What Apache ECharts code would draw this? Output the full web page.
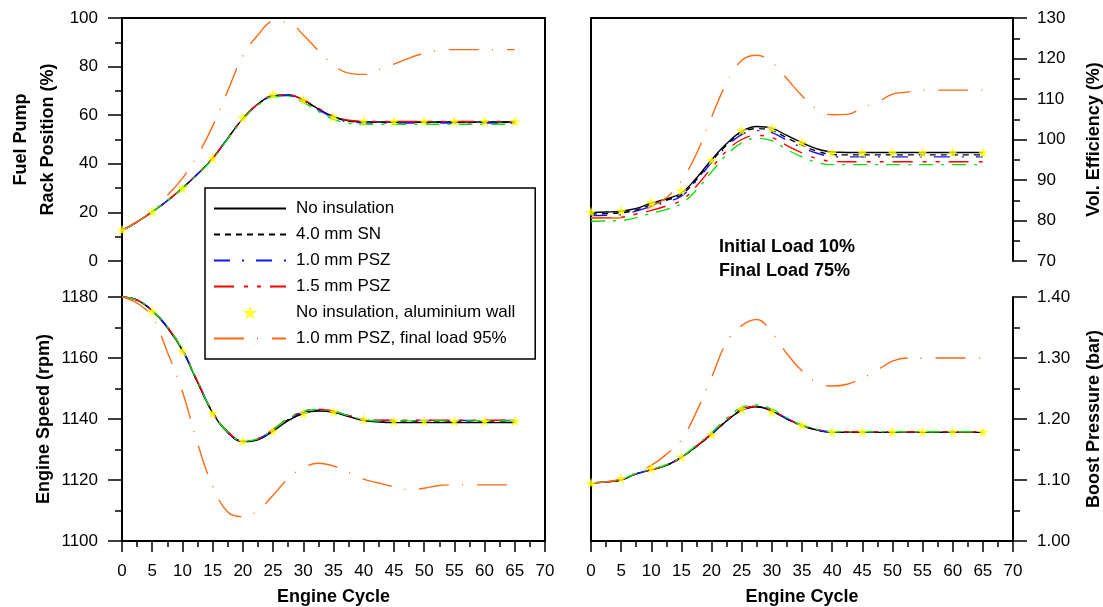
<!DOCTYPE html>
<html>
<head>
    <meta charset="utf-8">
    <title>Transient response, Initial Load 10% / Final Load 75%</title>
    <script src="https://cdn.jsdelivr.net/npm/echarts@6/dist/echarts.min.js"></script>
</head>
<body style="margin:0">
<div id="main" style="width:1103px;height:607px;"></div>
<script type="text/javascript">
    // engine cycles sampled for the curves, and the cycles of the star markers
    var cycles = [0, 2.5, 5, 7.5, 10, 12.5, 15, 17.5, 20, 22.5, 25, 27.5, 30, 32.5, 35, 37.5, 40, 42.5, 45, 47.5, 50, 52.5, 55, 57.5, 60, 62.5, 65];
    var starCycles = [0, 5, 10, 15, 20, 25, 30, 35, 40, 45, 50, 55, 60, 65];

    var lineNames = ['No insulation', '4.0 mm SN', '1.0 mm PSZ', '1.5 mm PSZ', 'Other', '1.0 mm PSZ, final load 95%'];
    var starName = 'No insulation, aluminium wall';

    // fuel pump rack position (%)
    var rackNoIns = [12.5, 16.1, 20.2, 24.8, 30, 35.8, 42.2, 50.5, 58.6, 64.6, 68, 68.3, 66.2, 62.6, 59.4, 57.7, 57.3, 57.2, 57.2, 57.2, 57.2, 57.2, 57.2, 57.2, 57.2, 57.2, 57.2];
    var rackSN = [12.5, 16.1, 20.2, 24.8, 30, 35.8, 42.2, 50.5, 58.6, 64.5, 67.9, 68.2, 66.1, 62.5, 59.3, 57.6, 57.2, 57.1, 57.1, 57.1, 57.1, 57.1, 57.1, 57.1, 57.1, 57.1, 57.1];
    var rackPSZ10 = [12.5, 16.1, 20.2, 24.8, 30, 35.8, 42.2, 50.4, 58.4, 64.4, 67.8, 68.1, 65.9, 62.2, 59, 57.2, 56.9, 56.8, 56.8, 56.8, 56.8, 56.8, 56.8, 56.8, 56.8, 56.8, 56.8];
    var rackPSZ15 = [12.5, 16.1, 20.2, 24.8, 30, 35.9, 42.3, 50.6, 58.7, 64.7, 68.1, 68.4, 66.4, 62.9, 59.6, 57.9, 57.5, 57.4, 57.4, 57.4, 57.4, 57.4, 57.4, 57.4, 57.4, 57.4, 57.4];
    var rackGreen = [12.5, 16.1, 20.2, 24.8, 30, 35.7, 42, 50.2, 58.2, 64.2, 67.6, 67.8, 65.3, 61.6, 58.3, 56.7, 56.3, 56.3, 56.3, 56.3, 56.3, 56.3, 56.3, 56.3, 56.3, 56.3, 56.3];
    var rackPSZ95 = [12.5, 16.2, 20.5, 27, 34, 43.5, 55.5, 70, 84.5, 93, 98.5, 98.2, 93, 86.5, 80.5, 77.3, 76.8, 78.8, 81, 83.5, 85.5, 86.7, 87, 87, 87, 87, 87];
    var rackAlu = [12.8, 20.3, 29.9, 42.3, 59, 68.6, 66.3, 59.4, 57.6, 57.5, 57.5, 57.5, 57.5, 57.5];

    // engine speed (rpm)
    var speedNoIns = [1180, 1179, 1175.5, 1170, 1162.5, 1152, 1142, 1135.5, 1132.6, 1133.2, 1136, 1139.5, 1141.8, 1142.6, 1142.2, 1140.8, 1139.5, 1139, 1138.8, 1138.8, 1138.8, 1138.8, 1138.8, 1138.8, 1138.8, 1138.8, 1138.8];
    var speedSN = [1180, 1179, 1175.5, 1170.1, 1162.6, 1152.2, 1142.2, 1135.7, 1132.8, 1133.4, 1136.3, 1139.8, 1142.1, 1142.9, 1142.4, 1141, 1139.7, 1139.4, 1139.3, 1139.3, 1139.3, 1139.3, 1139.3, 1139.3, 1139.3, 1139.3, 1139.3];
    var speedPSZ10 = [1180, 1179, 1175.6, 1170.2, 1162.8, 1152.4, 1142.3, 1135.8, 1132.9, 1133.5, 1136.4, 1140, 1142.3, 1143, 1142.5, 1141.1, 1139.8, 1139.5, 1139.5, 1139.5, 1139.5, 1139.5, 1139.5, 1139.5, 1139.5, 1139.5, 1139.5];
    var speedPSZ15 = [1180, 1179, 1175.6, 1170.2, 1162.8, 1152.4, 1142.3, 1135.8, 1132.9, 1133.6, 1136.6, 1140.2, 1142.5, 1143.2, 1142.6, 1141.2, 1139.9, 1139.6, 1139.6, 1139.6, 1139.6, 1139.6, 1139.6, 1139.6, 1139.6, 1139.6, 1139.6];
    var speedGreen = [1180, 1179, 1175.6, 1170.2, 1162.7, 1152.3, 1142.2, 1135.7, 1132.8, 1133.5, 1136.5, 1140.1, 1142.4, 1143.1, 1142.5, 1141.1, 1139.8, 1139.4, 1139.4, 1139.4, 1139.4, 1139.4, 1139.4, 1139.4, 1139.4, 1139.4, 1139.4];
    var speedPSZ95 = [1180, 1178, 1173.5, 1162, 1149, 1132, 1118, 1109.5, 1108, 1110, 1115, 1120.5, 1124, 1125.5, 1124.6, 1122.5, 1120.3, 1119, 1117.8, 1116.8, 1117.3, 1118.2, 1118.4, 1118.4, 1118.4, 1118.4, 1118.4];
    var speedAlu = [1180.6, 1175.2, 1162.3, 1141.9, 1132.8, 1136.1, 1141.9, 1142.4, 1139.9, 1139.3, 1139.3, 1139.3, 1139.3, 1139.3];

    // volumetric efficiency (%)
    var volNoIns = [82, 82.1, 82.3, 83, 84.3, 85.3, 86.8, 90.5, 95, 99, 102, 103.2, 102.8, 101, 99.2, 97.7, 96.9, 96.8, 96.8, 96.8, 96.8, 96.8, 96.8, 96.8, 96.8, 96.8, 96.8];
    var volSN = [81.6, 81.7, 81.9, 82.6, 83.9, 85, 86.4, 90.1, 94.6, 98.6, 101.6, 102.7, 102.2, 100.4, 98.6, 97.1, 96.3, 96.2, 96.2, 96.2, 96.2, 96.2, 96.2, 96.2, 96.2, 96.2, 96.2];
    var volPSZ10 = [81.2, 81.3, 81.5, 82.3, 83.5, 84.6, 86, 89.8, 94.3, 98.3, 101.2, 102.2, 101.7, 99.8, 98, 96.6, 95.8, 95.7, 95.7, 95.7, 95.7, 95.7, 95.7, 95.7, 95.7, 95.7, 95.7];
    var volPSZ15 = [80.6, 80.7, 80.8, 81.6, 82.5, 83.6, 85, 88.5, 93, 97.2, 100, 101, 100.5, 98.5, 96.7, 95.3, 94.6, 94.5, 94.5, 94.5, 94.5, 94.5, 94.5, 94.5, 94.5, 94.5, 94.5];
    var volGreen = [79.8, 79.9, 80, 80.7, 81.8, 82.7, 84.2, 87.5, 92, 96.2, 99.2, 100.3, 99.7, 97.5, 95.7, 94.3, 93.8, 93.8, 93.8, 93.8, 93.8, 93.8, 93.8, 93.8, 93.8, 93.8, 93.8];
    var volPSZ95 = [80.6, 80.6, 80.6, 81.5, 83.5, 85.6, 89.8, 96.5, 105.5, 114, 119.5, 120.8, 119, 115, 110.8, 107.5, 106.1, 106.2, 107.8, 109.2, 111.2, 111.7, 112.2, 112.2, 112.2, 112.2, 112.2];
    var volAlu = [82.1, 82.4, 84.5, 87.4, 94.9, 102.2, 102.8, 99.3, 96.8, 96.8, 96.8, 96.8, 96.8, 96.8];

    // boost pressure (bar)
    var boostNoIns = [1.095, 1.097, 1.100, 1.110, 1.117, 1.124, 1.137, 1.155, 1.175, 1.197, 1.214, 1.220, 1.213, 1.200, 1.189, 1.182, 1.178, 1.178, 1.178, 1.178, 1.178, 1.178, 1.178, 1.178, 1.178, 1.178, 1.178];
    var boostSN = [1.095, 1.097, 1.100, 1.110, 1.117, 1.124, 1.137, 1.155, 1.175, 1.197, 1.215, 1.220, 1.213, 1.200, 1.189, 1.182, 1.178, 1.178, 1.178, 1.178, 1.178, 1.178, 1.178, 1.178, 1.178, 1.178, 1.178];
    var boostPSZ10 = [1.095, 1.097, 1.101, 1.110, 1.117, 1.125, 1.137, 1.156, 1.176, 1.198, 1.215, 1.221, 1.214, 1.201, 1.190, 1.182, 1.179, 1.179, 1.179, 1.179, 1.179, 1.179, 1.179, 1.179, 1.179, 1.179, 1.179];
    var boostPSZ15 = [1.095, 1.097, 1.100, 1.110, 1.117, 1.124, 1.137, 1.156, 1.176, 1.198, 1.216, 1.221, 1.214, 1.201, 1.190, 1.183, 1.179, 1.179, 1.179, 1.179, 1.179, 1.179, 1.179, 1.179, 1.179, 1.179, 1.179];
    var boostGreen = [1.095, 1.097, 1.101, 1.111, 1.118, 1.125, 1.138, 1.157, 1.178, 1.201, 1.219, 1.223, 1.216, 1.202, 1.190, 1.183, 1.179, 1.179, 1.179, 1.179, 1.179, 1.179, 1.179, 1.179, 1.179, 1.179, 1.179];
    var boostPSZ95 = [1.095, 1.097, 1.102, 1.113, 1.124, 1.142, 1.166, 1.212, 1.268, 1.326, 1.353, 1.363, 1.342, 1.307, 1.279, 1.260, 1.254, 1.257, 1.267, 1.280, 1.295, 1.300, 1.300, 1.300, 1.300, 1.300, 1.300];
    var boostAlu = [1.095, 1.103, 1.119, 1.138, 1.175, 1.216, 1.212, 1.190, 1.179, 1.179, 1.179, 1.179, 1.179, 1.179];

    var FONT = 'Liberation Sans, Arial, Helvetica, sans-serif';
    var STAR = 'path://M50,0 L61,35 L98,35 L68,57 L79,91 L50,70 L21,91 L32,57 L2,35 L39,35 Z';

    var lineStyles = [
        { color: '#000000', type: 'solid' },
        { color: '#000000', type: [6, 5] },
        { color: '#1414ff', type: [16, 12, 2, 12] },
        { color: '#ff0000', type: [20, 10, 4, 9, 4, 9] },
        { color: '#11dd11', type: [14, 8, 3, 8] },
        { color: '#ff6a13', type: [30, 13, 1, 14] }
    ];

    var panels = [
        { grid: 0, lines: [rackNoIns, rackSN, rackPSZ10, rackPSZ15, rackGreen, rackPSZ95], stars: rackAlu },
        { grid: 1, lines: [speedNoIns, speedSN, speedPSZ10, speedPSZ15, speedGreen, speedPSZ95], stars: speedAlu },
        { grid: 2, lines: [volNoIns, volSN, volPSZ10, volPSZ15, volGreen, volPSZ95], stars: volAlu },
        { grid: 3, lines: [boostNoIns, boostSN, boostPSZ10, boostPSZ15, boostGreen, boostPSZ95], stars: boostAlu }
    ];

    function pairs(xs, ys) {
        return xs.map(function (x, i) { return [x, ys[i]]; });
    }

    var series = [];
    panels.forEach(function (p) {
        p.lines.forEach(function (ys, k) {
            series.push({
                name: lineNames[k],
                type: 'line',
                xAxisIndex: p.grid,
                yAxisIndex: p.grid,
                data: pairs(cycles, ys),
                smooth: 0.4,
                symbol: 'none',
                color: lineStyles[k].color,
                lineStyle: { width: 1.4, color: lineStyles[k].color, type: lineStyles[k].type }
            });
        });
        series.push({
            name: starName,
            type: 'scatter',
            xAxisIndex: p.grid,
            yAxisIndex: p.grid,
            data: pairs(starCycles, p.stars),
            symbol: STAR,
            symbolSize: 11,
            z: 5,
            itemStyle: { color: '#ffff00' }
        });
    });

    function cycleAxis(grid, visible) {
        return {
            type: 'value', gridIndex: grid, min: 0, max: 70, interval: 5, show: visible,
            name: 'Engine Cycle', nameLocation: 'middle', nameGap: 47,
            nameTextStyle: { fontSize: 18, fontWeight: 'bold', color: '#000', fontFamily: FONT },
            axisLine: { show: true, onZero: false, lineStyle: { color: '#000', width: 2 } },
            axisTick: { length: 11, lineStyle: { color: '#000', width: 1.5 } },
            minorTick: { show: true, splitNumber: 2, length: 6, lineStyle: { color: '#000', width: 1.5 } },
            axisLabel: { fontSize: 17, color: '#000', margin: 22, fontFamily: FONT },
            splitLine: { show: false }
        };
    }

    function valueAxis(grid, pos, min, max, step, name, gap, fmt) {
        return {
            type: 'value', gridIndex: grid, position: pos, min: min, max: max, interval: step,
            name: name, nameLocation: 'middle', nameGap: gap,
            nameTextStyle: { fontSize: 18, fontWeight: 'bold', color: '#000', fontFamily: FONT, lineHeight: 27 },
            axisLine: { show: true, onZero: false, lineStyle: { color: '#000', width: 2 } },
            axisTick: { length: 14, lineStyle: { color: '#000', width: 1.5 } },
            minorTick: { show: true, splitNumber: 2, length: 7, lineStyle: { color: '#000', width: 1.5 } },
            axisLabel: { fontSize: 17, color: '#000', margin: 24, fontFamily: FONT, formatter: fmt },
            splitLine: { show: false }
        };
    }

    function frameAxis(grid, pos) {
        return {
            type: 'value', gridIndex: grid, position: pos, min: 0, max: 1,
            axisLine: { show: true, onZero: false, lineStyle: { color: '#000', width: 2 } },
            axisTick: { show: false }, axisLabel: { show: false }, splitLine: { show: false }
        };
    }

    function plain(v) { return String(v); }

    // legend entries: lines without a marker, the aluminium wall case as a star only
    var legendItems = ['No insulation', '4.0 mm SN', '1.0 mm PSZ', '1.5 mm PSZ', starName, '1.0 mm PSZ, final load 95%'].map(function (n) {
        return n === starName ? { name: n } : { name: n, itemStyle: { opacity: 0 } };
    });

    var myChart = echarts.init(document.getElementById('main'));
    myChart.setOption({
        animation: false,
        backgroundColor: '#ffffff',
        title: {
            text: 'Initial Load 10%\nFinal Load 75%',
            left: 719, top: 235, padding: 0,
            textStyle: { fontSize: 18, fontWeight: 'bold', color: '#000', lineHeight: 24, fontFamily: FONT }
        },
        legend: {
            data: legendItems,
            orient: 'vertical',
            left: 205, top: 188,
            padding: [12, 20, 12, 8],
            itemWidth: 72, itemHeight: 14, itemGap: 9,
            borderColor: '#000', borderWidth: 1.5,
            backgroundColor: '#fff',
            textStyle: { fontSize: 17, color: '#000', fontFamily: FONT, padding: [0, 0, 0, 5] }
        },
        grid: [
            { left: 122, top: 18, width: 423, height: 243, outerBoundsMode: 'none' },
            { left: 122, top: 297, width: 423, height: 244, outerBoundsMode: 'none' },
            { left: 591, top: 18, width: 422, height: 243, outerBoundsMode: 'none' },
            { left: 591, top: 297, width: 422, height: 244, outerBoundsMode: 'none' },
            { left: 122, top: 18, width: 423, height: 523, outerBoundsMode: 'none', show: true, borderColor: '#000', borderWidth: 2 },
            { left: 591, top: 18, width: 422, height: 523, outerBoundsMode: 'none' }
        ],
        xAxis: [
            cycleAxis(0, false),
            cycleAxis(1, true),
            cycleAxis(2, false),
            cycleAxis(3, true),
            { type: 'value', gridIndex: 4, show: false },
            frameAxis(5, 'top')
        ],
        yAxis: [
            valueAxis(0, 'left', 0, 100, 20, 'Fuel Pump\nRack Position (%)', 60, plain),
            valueAxis(1, 'left', 1100, 1180, 20, 'Engine Speed (rpm)', 60, plain),
            valueAxis(2, 'right', 70, 130, 10, 'Vol. Efficiency (%)', 68, plain),
            valueAxis(3, 'right', 1.0, 1.4, 0.1, 'Boost Pressure (bar)', 68, function (v) { return v.toFixed(2); }),
            { type: 'value', gridIndex: 4, show: false },
            frameAxis(5, 'left')
        ],
        series: series
    });
</script>
</body>
</html>
